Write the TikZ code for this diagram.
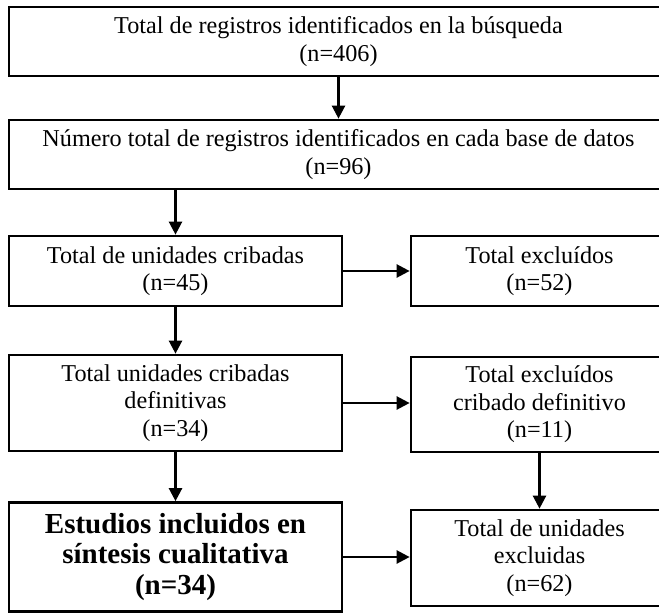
\documentclass[tikz,border=0pt]{standalone}
\usepackage{fontspec}
\setmainfont{Liberation Serif}
\usetikzlibrary{positioning, arrows.meta}

\begin{document}
\begin{tikzpicture}[x=1pt, y=-1pt,
  caja/.style={draw=black, line width=2.7pt, rectangle, align=center, inner sep=0pt,
    font=\fontsize{24.2}{27.5}\selectfont},
  ancha/.style={caja, minimum width=659pt, minimum height=69pt},
  izq/.style={caja, minimum width=333pt},
  der/.style={caja, minimum width=257pt},
  flecha/.style={line width=2.4pt, -{Triangle[length=13pt, width=13pt]}}]
  \clip (0,0) rectangle (659,614);

  % columna principal
  \node[ancha] (busq) at (338.5,41.5) {Total de registros identificados en la búsqueda\\(n=406)};
  \node[ancha] (bases) at (338.5,154.5) {Número total de registros identificados en cada base de datos\\(n=96)};
  \node[izq, minimum height=70pt] (cribadas) at (175.5,271) {Total de unidades cribadas\\(n=45)};
  \node[izq, minimum height=96pt] (defin) at (175.5,403) {Total unidades cribadas\\definitivas\\(n=34)};
  \node[izq, minimum height=109pt, font=\fontsize{29}{30.5}\selectfont\bfseries] (incl) at (175.5,557) {Estudios incluidos en\\síntesis cualitativa\\(n=34)};

  % excluidos
  \node[der, minimum height=70pt] (excl) at (539.5,271) {Total excluídos\\(n=52)};
  \node[der, minimum height=95pt] (excldef) at (539.5,404.5) {Total excluídos\\cribado definitivo\\(n=11)};
  \node[der, minimum height=96pt] (exclunid) at (539.5,558) {Total de unidades\\excluidas\\(n=62)};

  \draw[flecha] (busq) -- (bases);
  \draw[flecha] (bases.south -| cribadas.north) -- (cribadas.north);
  \draw[flecha] (cribadas) -- (defin);
  \draw[flecha] (defin) -- (incl);
  \draw[flecha] (cribadas.east) -- (cribadas.east -| excl.west);
  \draw[flecha] (defin.east) -- (defin.east -| excldef.west);
  \draw[flecha] (incl.east) -- (incl.east -| exclunid.west);
  \draw[flecha] (excldef) -- (exclunid);
\end{tikzpicture}
\end{document}
